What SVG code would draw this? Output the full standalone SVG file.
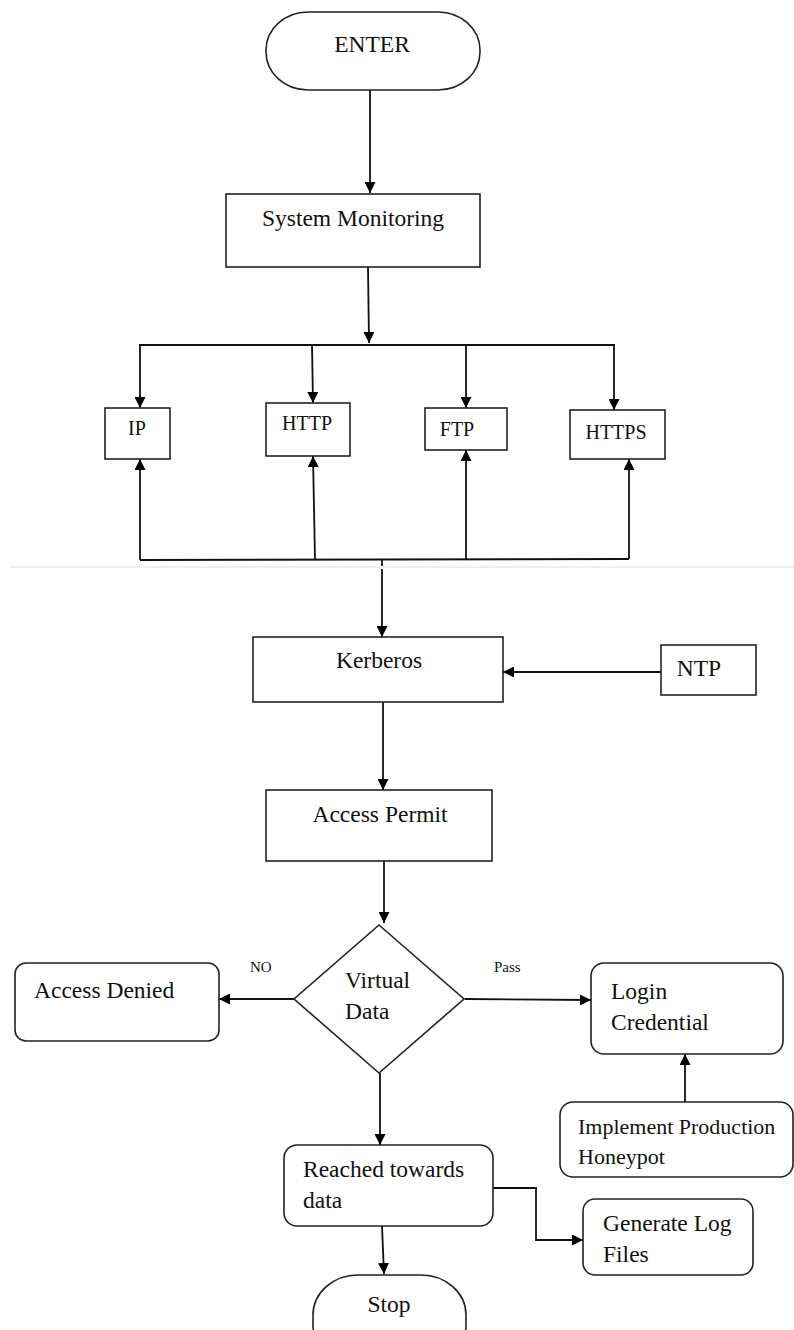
<svg xmlns="http://www.w3.org/2000/svg" width="794" height="1330" viewBox="0 0 794 1330">
<style>
.box{fill:#fff;stroke:#222;stroke-width:1.6}
.ln{fill:none;stroke:#111;stroke-width:1.8}
.t{font-family:"Liberation Serif","Times New Roman",serif;font-size:23.5px;fill:#111}
.p{font-size:20px}
.s{font-size:15px}
.m{text-anchor:middle}
</style>
<defs>
<marker id="ah" viewBox="0 0 10 10" refX="10" refY="5" markerWidth="11" markerHeight="11" markerUnits="userSpaceOnUse" orient="auto">
<path d="M0,0 L10,5 L0,10 z" fill="#000"/>
</marker>
</defs>
<rect width="794" height="1330" fill="#fff"/>
<line x1="10" y1="567" x2="794" y2="567" stroke="#ddd" stroke-width="1"/>

<g id="connectors" class="ln">
<line x1="370" y1="90" x2="370" y2="193" marker-end="url(#ah)"/>
<line x1="368" y1="267" x2="369" y2="343" marker-end="url(#ah)"/>
<line x1="139" y1="345" x2="615" y2="345"/>
<line x1="140" y1="345" x2="140" y2="408" marker-end="url(#ah)"/>
<line x1="312" y1="345" x2="313" y2="403" marker-end="url(#ah)"/>
<line x1="466" y1="345" x2="466" y2="408" marker-end="url(#ah)"/>
<line x1="614" y1="345" x2="614" y2="410" marker-end="url(#ah)"/>
<polyline points="140,560 629,559"/>
<line x1="140" y1="560" x2="140" y2="459" marker-end="url(#ah)"/>
<line x1="315" y1="560" x2="313" y2="456" marker-end="url(#ah)"/>
<line x1="466" y1="560" x2="466" y2="450" marker-end="url(#ah)"/>
<line x1="629" y1="559" x2="629" y2="459" marker-end="url(#ah)"/>
<line x1="382" y1="560" x2="382" y2="566"/>
<line x1="382" y1="569" x2="382" y2="637" marker-end="url(#ah)"/>
<line x1="661" y1="672" x2="503" y2="672" marker-end="url(#ah)"/>
<line x1="383" y1="702" x2="383" y2="790" marker-end="url(#ah)"/>
<line x1="384" y1="861" x2="384" y2="923" marker-end="url(#ah)"/>
<line x1="294" y1="999" x2="219" y2="999" marker-end="url(#ah)"/>
<line x1="465" y1="999" x2="591" y2="1000" marker-end="url(#ah)"/>
<line x1="685" y1="1102" x2="685" y2="1054" marker-end="url(#ah)"/>
<line x1="380" y1="1073" x2="380" y2="1145" marker-end="url(#ah)"/>
<polyline points="493,1188 536,1188 536,1240 583,1240" marker-end="url(#ah)"/>
<line x1="382" y1="1226" x2="384" y2="1274" marker-end="url(#ah)"/>
</g>

<g id="enter"><rect class="box" x="266" y="12" width="214" height="78" rx="42" ry="38"/><text class="t m" x="372" y="52">ENTER</text></g>
<g id="system-monitoring"><rect class="box" x="226" y="194" width="254" height="73"/><text class="t m" x="353" y="226">System Monitoring</text></g>
<g id="ip"><rect class="box" x="105" y="408" width="65" height="51"/><text class="t p m" x="137" y="435">IP</text></g>
<g id="http"><rect class="box" x="266" y="403" width="84" height="53"/><text class="t p m" x="307" y="430">HTTP</text></g>
<g id="ftp"><rect class="box" x="425" y="408" width="82" height="42"/><text class="t p m" x="457" y="436">FTP</text></g>
<g id="https"><rect class="box" x="570" y="410" width="95" height="49"/><text class="t p m" x="616" y="439">HTTPS</text></g>
<g id="kerberos"><rect class="box" x="253" y="637" width="250" height="65"/><text class="t m" x="379" y="668">Kerberos</text></g>
<g id="ntp"><rect class="box" x="661" y="645" width="95" height="50"/><text class="t m" x="699" y="676">NTP</text></g>
<g id="access-permit"><rect class="box" x="266" y="790" width="226" height="71"/><text class="t m" x="380" y="822">Access Permit</text></g>
<g id="virtual-data"><polygon class="box" points="379,925 464,999 379,1073 294,999"/><text class="t" x="345" y="988">Virtual</text><text class="t" x="345" y="1019">Data</text></g>
<g id="access-denied"><rect class="box" x="15" y="963" width="204" height="78" rx="11"/><text class="t" x="34" y="998">Access Denied</text></g>
<g id="login-credential"><rect class="box" x="591" y="963" width="192" height="91" rx="13"/><text class="t" x="611" y="999">Login</text><text class="t" x="611" y="1030">Credential</text></g>
<g id="honeypot"><rect class="box" x="560" y="1102" width="233" height="75" rx="13"/><text class="t" x="578" y="1134" style="font-size:22px">Implement Production</text><text class="t" x="578" y="1164" style="font-size:22px">Honeypot</text></g>
<g id="reached"><rect class="box" x="284" y="1145" width="209" height="81" rx="13"/><text class="t" x="303" y="1177">Reached towards</text><text class="t" x="303" y="1208">data</text></g>
<g id="generate-log"><rect class="box" x="583" y="1199" width="170" height="76" rx="12"/><text class="t" x="603" y="1231">Generate Log</text><text class="t" x="603" y="1262">Files</text></g>
<g id="stop"><rect class="box" x="313" y="1275" width="153" height="90" rx="45" ry="40"/><text class="t m" x="389" y="1312">Stop</text></g>
<g id="labels"><text class="t s" x="250" y="972">NO</text><text class="t s" x="494" y="972">Pass</text></g>
</svg>
